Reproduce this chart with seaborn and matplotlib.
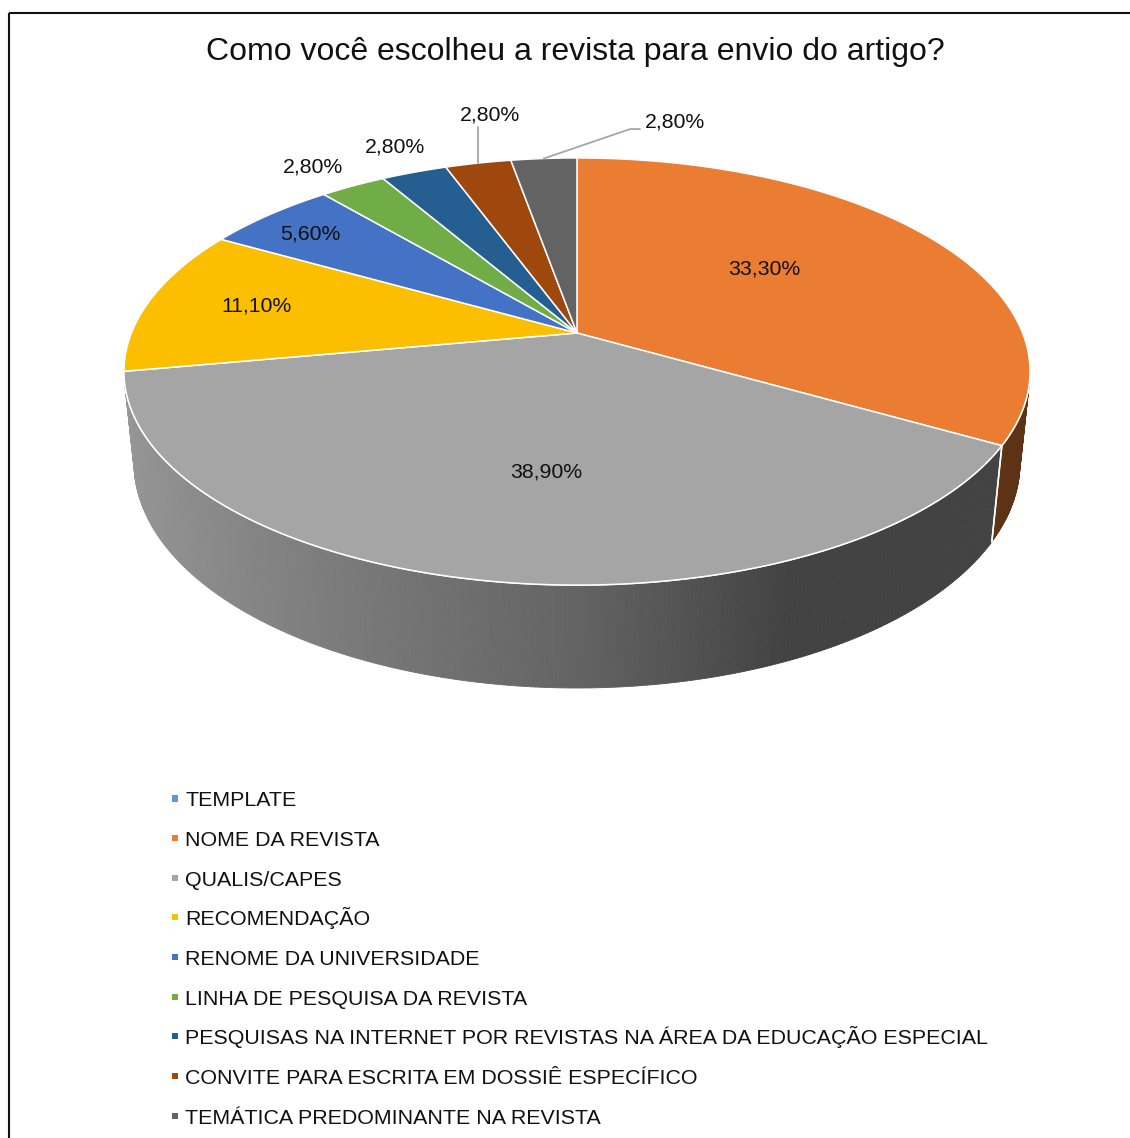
import numpy as np
import matplotlib
matplotlib.use("Agg")
import matplotlib.pyplot as plt
import seaborn as sns
from matplotlib.patches import Polygon, Rectangle
from matplotlib.collections import PolyCollection
from matplotlib.colors import to_rgb

# ---------------- data ----------------
title = "Como você escolheu a revista para envio do artigo?"
categories = [
    "TEMPLATE",
    "NOME DA REVISTA",
    "QUALIS/CAPES",
    "RECOMENDAÇÃO",
    "RENOME DA UNIVERSIDADE",
    "LINHA DE PESQUISA DA REVISTA",
    "PESQUISAS NA INTERNET POR REVISTAS NA ÁREA DA EDUCAÇÃO ESPECIAL",
    "CONVITE PARA ESCRITA EM DOSSIÊ ESPECÍFICO",
    "TEMÁTICA PREDOMINANTE NA REVISTA",
]
values = [0.0, 33.3, 38.9, 11.1, 5.6, 2.8, 2.8, 2.8, 2.8]
colors = ["#5B9BD5", "#EA7D32", "#A5A5A5", "#FBBF00", "#4472C4",
          "#70AD47", "#255E91", "#9E480E", "#636363"]

# label layout: (radius fraction, angular nudge in degrees)
label_layout = [None, (0.552, -6.3), (0.603, -3.8), (0.75, 0.8), (0.84, -1.0),
                (1.167, -1.2), (1.18, 0.8), (1.325, 4.6), (1.28, 17.2)]
leader_kind = [None, None, None, None, None, None, None, "vertical", "elbow"]

# ---------------- style ----------------
sns.set_theme(style="white")
plt.rcParams["font.family"] = ["Liberation Sans", "DejaVu Sans"]

W, H_PX = 1130, 1138
fig = plt.figure(figsize=(W / 100, H_PX / 100), dpi=100)
ax = fig.add_axes([0, 0, 1, 1])
ax.set_xlim(0, W)
ax.set_ylim(H_PX, 0)
ax.axis("off")

# ---------------- 3D projection of the pie ----------------
CX, CY = 577.0, 333.0
A = 445.6
sin_e = 0.4637
cos_e = np.sqrt(1 - sin_e ** 2)
Dc = cos_e / 0.1803
F = A * Dc
THICK = 0.2335


def proj(X, Y, Z=0.0):
    depth = Dc + Y * cos_e - Z * sin_e
    return CX + F * X / depth, CY - F * (Y * sin_e + Z * cos_e) / depth


def arc(t0, t1, r=1.0, Z=0.0):
    n = max(2, int(abs(t1 - t0) / 0.4) + 1)
    t = np.radians(np.linspace(t0, t1, n))
    u, v = proj(r * np.sin(t), r * np.cos(t), Z)
    return np.column_stack([u, v])


vals = np.array(values)
total = vals.sum()
ends = np.cumsum(vals) / total * 360.0
starts = ends - vals / total * 360.0

vis_lo = np.degrees(np.arccos(-1.0 / (Dc * cos_e)))
vis_hi = 360.0 - vis_lo


def shade(theta_deg):
    s = np.sin(np.radians(theta_deg))
    return np.interp(s, [-1.0, 0.0, 0.4, 1.0], [0.92, 0.6, 0.4, 0.4])


# side walls
for i, v in enumerate(values):
    if v <= 0:
        continue
    lo, hi = max(starts[i], vis_lo), min(ends[i], vis_hi)
    if hi <= lo:
        continue
    th = np.linspace(lo, hi, max(2, int((hi - lo) / 0.5) + 1))
    tr = np.radians(th)
    top = np.column_stack(proj(np.sin(tr), np.cos(tr)))
    bot = np.column_stack(proj(np.sin(tr), np.cos(tr), -THICK))
    base = np.array(to_rgb(colors[i]))
    quads, cols = [], []
    for k in range(len(th) - 1):
        quads.append([top[k], top[k + 1], bot[k + 1], bot[k]])
        cols.append(tuple(np.clip(base * shade(0.5 * (th[k] + th[k + 1])), 0, 1)))
    ax.add_collection(PolyCollection(quads, facecolors=cols, edgecolors=cols,
                                     linewidths=0.6, zorder=2))
    # white seam along the top rim and slice boundaries
    ax.plot(top[:, 0], top[:, 1], color="white", lw=1.1, zorder=3)
    for k in (0, -1):
        if th[k] in (starts[i], ends[i]):
            ax.plot([top[k, 0], bot[k, 0]], [top[k, 1], bot[k, 1]],
                    color="white", lw=1.1, zorder=3)

# top faces
apex = proj(0.0, 0.0)
for i, v in enumerate(values):
    if v <= 0:
        continue
    pts = np.vstack([[apex], arc(starts[i], ends[i])])
    ax.add_patch(Polygon(pts, closed=True, facecolor=colors[i], edgecolor="white",
                         lw=1.1, joinstyle="round", zorder=4))

# data labels
for i, v in enumerate(values):
    if v <= 0 or label_layout[i] is None:
        continue
    r, dt = label_layout[i]
    mid = 0.5 * (starts[i] + ends[i])
    t = np.radians(mid + dt)
    lu, lv = proj(r * np.sin(t), r * np.cos(t))
    txt = f"{v:.2f}%".replace(".", ",")
    ax.text(lu, lv, txt, ha="center", va="center", fontsize=15.3, color="#111111", zorder=6)
    su, sv = proj(np.sin(np.radians(mid)), np.cos(np.radians(mid)))
    if leader_kind[i] == "vertical":
        ax.plot([su, su], [sv, lv + 12], color="#A6A6A6", lw=1.3, zorder=5)
    elif leader_kind[i] == "elbow":
        ax.plot([su, lu - 45, lu - 35], [sv, lv + 7, lv + 7], color="#A6A6A6", lw=1.3, zorder=5)

# title
ax.text(575.5, 52, title, ha="center", va="center", fontsize=23, color="#111111")

# legend (uniform rows, square markers)
LEG_X, LEG_Y0, LEG_DY = 175.0, 798.5, 39.65
rows = LEG_Y0 + LEG_DY * np.arange(len(categories))
ax.scatter(np.full(len(categories), LEG_X), rows, marker="s", s=19, c=colors,
           linewidths=0, zorder=6)
for yy, name in zip(rows, categories):
    ax.text(LEG_X + 10, yy + 7.8, name, ha="left", va="baseline", fontsize=15.4,
            color="#111111")

# chart border (only top and left visible in the crop)
ax.add_patch(Rectangle((9, 13), 1400, 1400, fill=False, edgecolor="#111111", lw=1.5,
                       clip_on=False, zorder=10))

fig.savefig("out.png", dpi=100)
